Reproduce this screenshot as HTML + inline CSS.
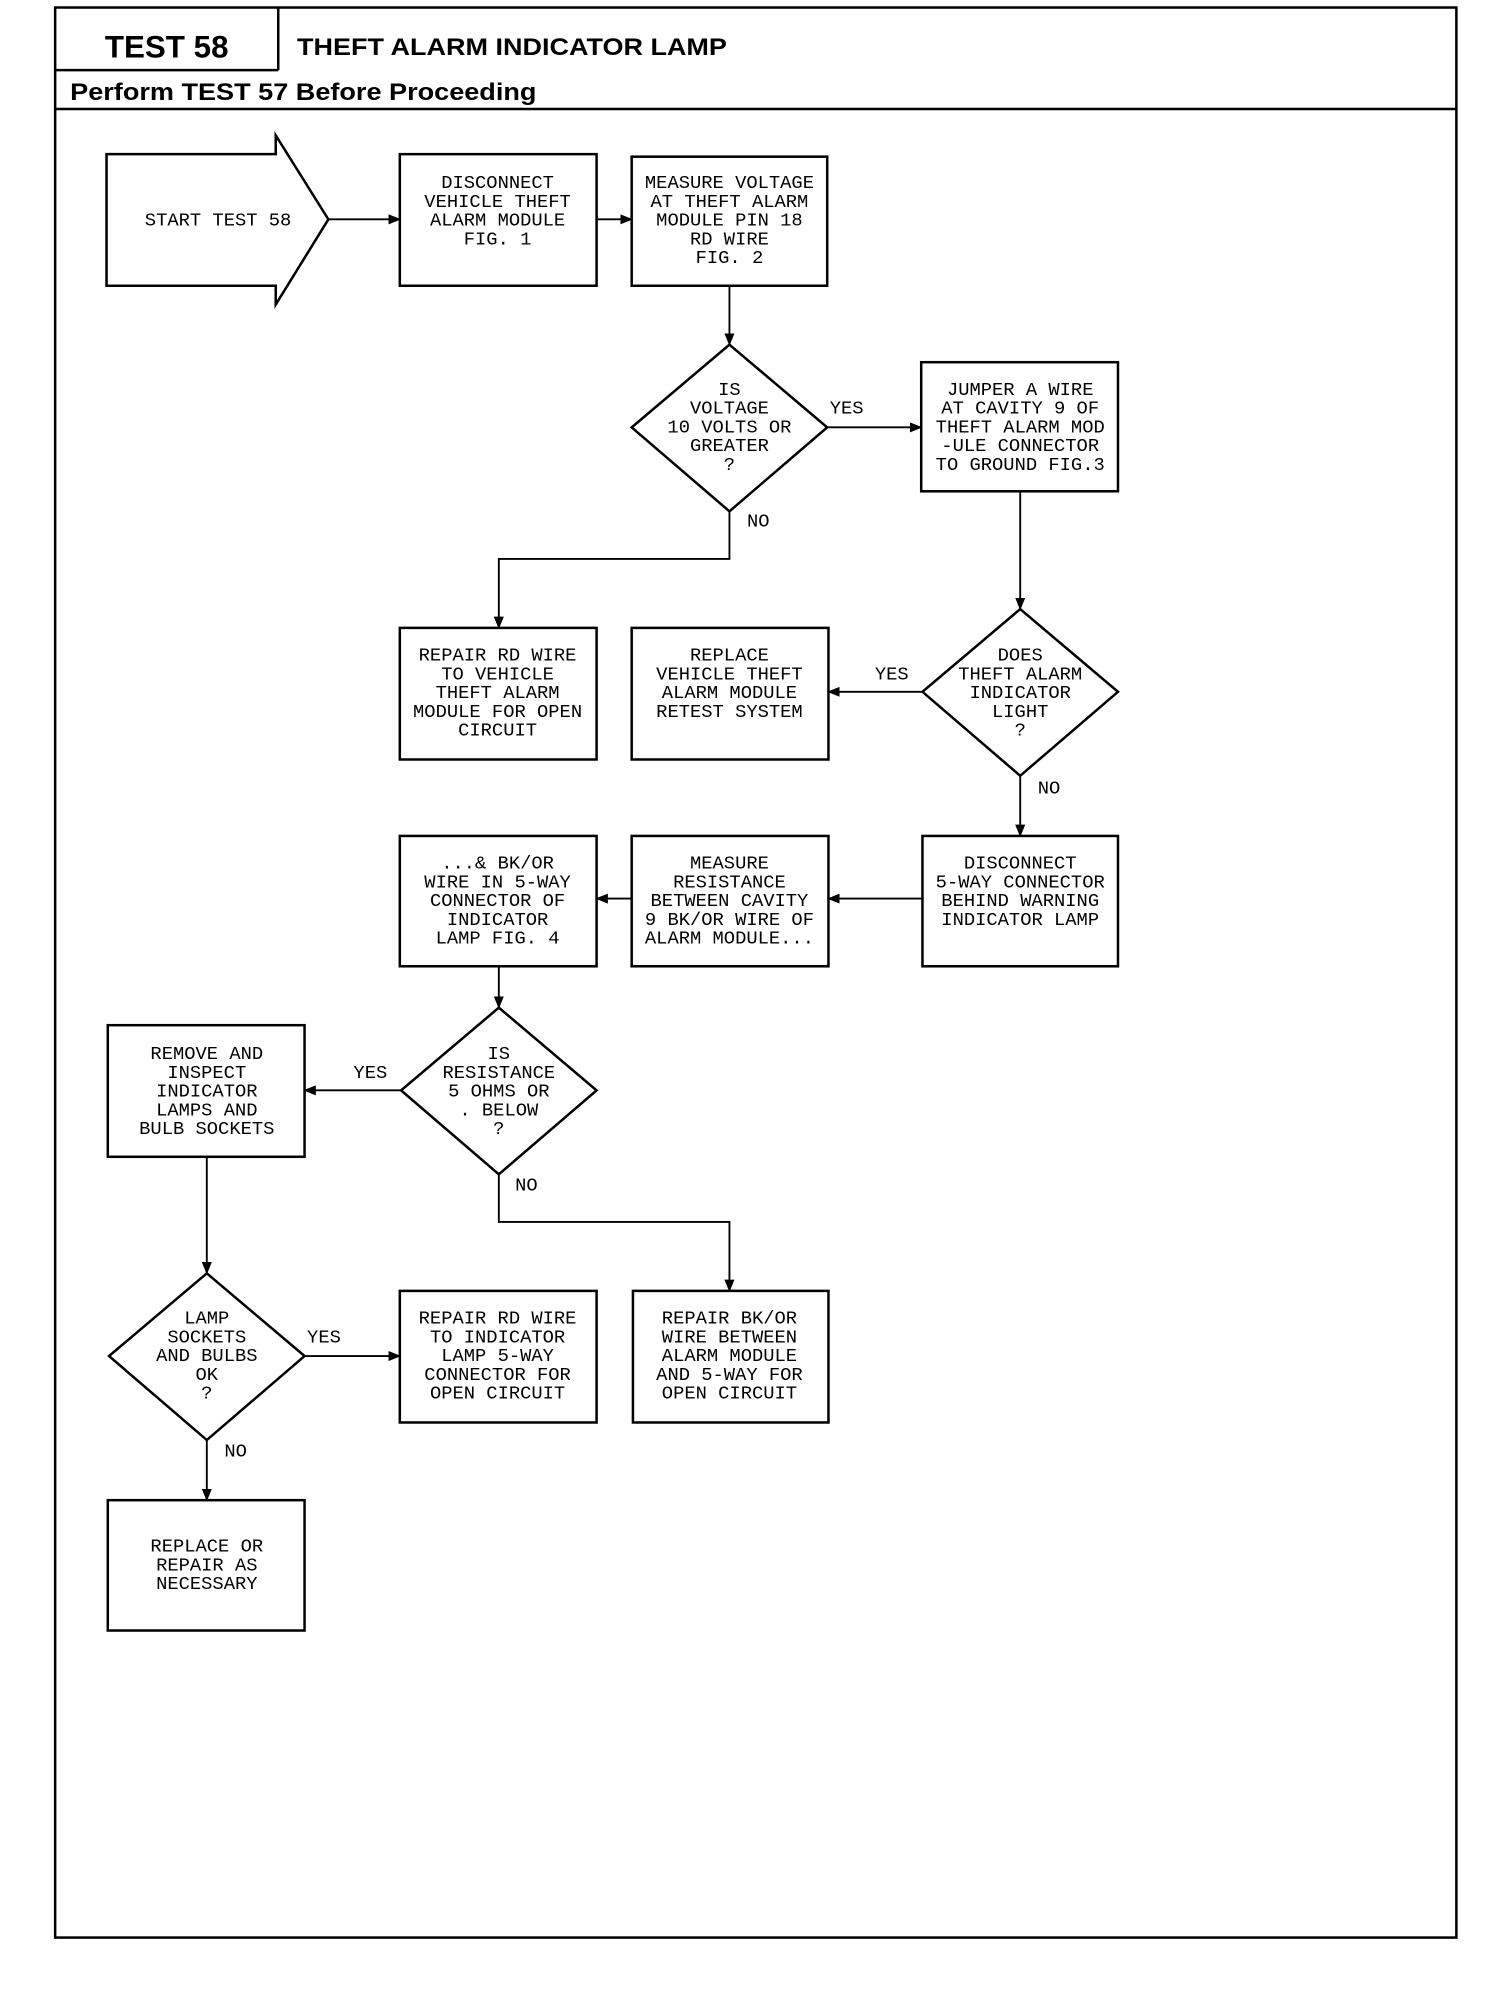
<!DOCTYPE html>
<html><head><meta charset="utf-8"><style>
html,body{margin:0;padding:0;background:#fff;}
svg{display:block;}
.t{font-family:"Liberation Mono",monospace;font-size:15px;fill:#000;text-anchor:middle;}
.l{font-family:"Liberation Mono",monospace;font-size:15px;fill:#000;}
</style></head><body>
<svg width="1504" height="2004" viewBox="0 0 1200 1599" preserveAspectRatio="none" xmlns="http://www.w3.org/2000/svg">
<defs><marker id="a" markerWidth="10" markerHeight="8" refX="9" refY="4" orient="auto" markerUnits="userSpaceOnUse"><path d="M0,0 L10,4 L0,8 z" fill="#000"/></marker></defs>
<g fill="none" stroke="#000" stroke-width="2">
<rect x="44" y="6" width="1118" height="1540"/>
<line x1="222" y1="6" x2="222" y2="56"/>
<line x1="44" y1="56" x2="222" y2="56"/>
<line x1="44" y1="87" x2="1162" y2="87"/>
<path d="M85,123 L220,123 L220,108 L262,175 L220,243 L220,228 L85,228 Z"/>
<rect x="319" y="123" width="157" height="105"/>
<rect x="504" y="125" width="156" height="103"/>
<path d="M582,275 L660,341 L582,408 L504,341 Z"/>
<rect x="735" y="289" width="157" height="103"/>
<rect x="319" y="501" width="157" height="105"/>
<rect x="504" y="501" width="157" height="105"/>
<path d="M814,486 L892,552 L814,619 L736,552 Z"/>
<rect x="736" y="667" width="156" height="104"/>
<rect x="504" y="667" width="157" height="104"/>
<rect x="319" y="667" width="157" height="104"/>
<path d="M398,804 L476,870 L398,937 L320,870 Z"/>
<rect x="86" y="818" width="157" height="105"/>
<rect x="505" y="1030" width="156" height="105"/>
<path d="M165,1016 L243,1082 L165,1149 L87,1082 Z"/>
<rect x="319" y="1030" width="157" height="105"/>
<rect x="86" y="1197" width="157" height="104"/>
</g>
<g fill="none" stroke="#000" stroke-width="1.5" marker-end="url(#a)">
<line x1="262" y1="175" x2="319" y2="175"/>
<line x1="476" y1="175" x2="504" y2="175"/>
<line x1="582" y1="228" x2="582" y2="275"/>
<line x1="660" y1="341" x2="735" y2="341"/>
<line x1="814" y1="392" x2="814" y2="486"/>
<polyline points="582,408 582,446 398,446 398,501"/>
<line x1="736" y1="552" x2="661" y2="552"/>
<line x1="814" y1="619" x2="814" y2="667"/>
<line x1="736" y1="717" x2="661" y2="717"/>
<line x1="504" y1="717" x2="476" y2="717"/>
<line x1="398" y1="771" x2="398" y2="804"/>
<line x1="320" y1="870" x2="243" y2="870"/>
<polyline points="398,937 398,975 582,975 582,1030"/>
<line x1="165" y1="923" x2="165" y2="1016"/>
<line x1="243" y1="1082" x2="319" y2="1082"/>
<line x1="165" y1="1149" x2="165" y2="1197"/>
</g>
<text x="133" y="46" font-family="Liberation Sans,sans-serif" font-weight="bold" font-size="25" text-anchor="middle">TEST 58</text>
<text x="237" y="44" font-family="Liberation Sans,sans-serif" font-weight="bold" font-size="19" textLength="343" lengthAdjust="spacingAndGlyphs">THEFT ALARM INDICATOR LAMP</text>
<text x="56" y="80" font-family="Liberation Sans,sans-serif" font-weight="bold" font-size="19" textLength="372" lengthAdjust="spacingAndGlyphs">Perform TEST 57 Before Proceeding</text>
<g class="t">
<text x="174" y="180">START TEST 58</text>
<text x="397" y="150">DISCONNECT</text><text x="397" y="165">VEHICLE THEFT</text><text x="397" y="180">ALARM MODULE</text><text x="397" y="195">FIG. 1</text>
<text x="582" y="150">MEASURE VOLTAGE</text><text x="582" y="165">AT THEFT ALARM</text><text x="582" y="180">MODULE PIN 18</text><text x="582" y="195">RD WIRE</text><text x="582" y="210">FIG. 2</text>
<text x="582" y="315">IS</text><text x="582" y="330">VOLTAGE</text><text x="582" y="345">10 VOLTS OR</text><text x="582" y="360">GREATER</text><text x="582" y="375">?</text>
<text x="814" y="315">JUMPER A WIRE</text><text x="814" y="330">AT CAVITY 9 OF</text><text x="814" y="345">THEFT ALARM MOD</text><text x="814" y="360">-ULE CONNECTOR</text><text x="814" y="375">TO GROUND FIG.3</text>
<text x="397" y="527">REPAIR RD WIRE</text><text x="397" y="542">TO VEHICLE</text><text x="397" y="557">THEFT ALARM</text><text x="397" y="572">MODULE FOR OPEN</text><text x="397" y="587">CIRCUIT</text>
<text x="582" y="527">REPLACE</text><text x="582" y="542">VEHICLE THEFT</text><text x="582" y="557">ALARM MODULE</text><text x="582" y="572">RETEST SYSTEM</text>
<text x="814" y="527">DOES</text><text x="814" y="542">THEFT ALARM</text><text x="814" y="557">INDICATOR</text><text x="814" y="572">LIGHT</text><text x="814" y="587">?</text>
<text x="814" y="693">DISCONNECT</text><text x="814" y="708">5-WAY CONNECTOR</text><text x="814" y="723">BEHIND WARNING</text><text x="814" y="738">INDICATOR LAMP</text>
<text x="582" y="693">MEASURE</text><text x="582" y="708">RESISTANCE</text><text x="582" y="723">BETWEEN CAVITY</text><text x="582" y="738">9 BK/OR WIRE OF</text><text x="582" y="753">ALARM MODULE...</text>
<text x="397" y="693">...&amp; BK/OR</text><text x="397" y="708">WIRE IN 5-WAY</text><text x="397" y="723">CONNECTOR OF</text><text x="397" y="738">INDICATOR</text><text x="397" y="753">LAMP FIG. 4</text>
<text x="398" y="845">IS</text><text x="398" y="860">RESISTANCE</text><text x="398" y="875">5 OHMS OR</text><text x="398" y="890">. BELOW</text><text x="398" y="905">?</text>
<text x="165" y="845">REMOVE AND</text><text x="165" y="860">INSPECT</text><text x="165" y="875">INDICATOR</text><text x="165" y="890">LAMPS AND</text><text x="165" y="905">BULB SOCKETS</text>
<text x="165" y="1056">LAMP</text><text x="165" y="1071">SOCKETS</text><text x="165" y="1086">AND BULBS</text><text x="165" y="1101">OK</text><text x="165" y="1116">?</text>
<text x="397" y="1056">REPAIR RD WIRE</text><text x="397" y="1071">TO INDICATOR</text><text x="397" y="1086">LAMP 5-WAY</text><text x="397" y="1101">CONNECTOR FOR</text><text x="397" y="1116">OPEN CIRCUIT</text>
<text x="582" y="1056">REPAIR BK/OR</text><text x="582" y="1071">WIRE BETWEEN</text><text x="582" y="1086">ALARM MODULE</text><text x="582" y="1101">AND 5-WAY FOR</text><text x="582" y="1116">OPEN CIRCUIT</text>
<text x="165" y="1238">REPLACE OR</text><text x="165" y="1253">REPAIR AS</text><text x="165" y="1268">NECESSARY</text>
</g>
<g class="l">
<text x="662" y="330">YES</text><text x="596" y="420">NO</text>
<text x="698" y="542">YES</text><text x="828" y="633">NO</text>
<text x="282" y="860">YES</text><text x="411" y="950">NO</text>
<text x="245" y="1071">YES</text><text x="179" y="1162">NO</text>
</g>
</svg>
</body></html>
